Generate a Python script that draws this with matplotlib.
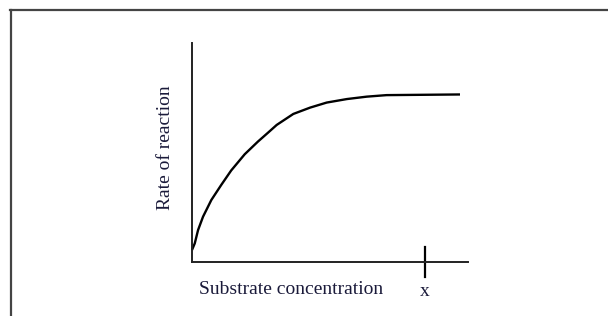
import matplotlib
matplotlib.use("Agg")
import matplotlib.pyplot as plt
from matplotlib.lines import Line2D

substrate = [0.0, 0.10, 0.22, 0.40, 0.70, 1.06, 1.42, 1.91, 2.39, 2.75, 3.07, 3.67,
             4.28, 4.88, 5.61, 6.33, 7.05, 9.71]
rate = [0.55, 0.85, 1.46, 2.07, 2.83, 3.52, 4.18, 4.92, 5.50, 5.90, 6.26, 6.76,
        7.05, 7.28, 7.44, 7.55, 7.62, 7.65]
x_mark = 8.44
x_label = "Substrate concentration"
y_label = "Rate of reaction"
mark_label = "x"

W, H = 608, 316
fig = plt.figure(figsize=(W / 100, H / 100), dpi=100)
fig.patch.set_facecolor("white")

# outer frame (top and left)
fig.add_artist(Line2D([10 / W, 1.0], [1 - 10 / H, 1 - 10 / H], transform=fig.transFigure,
                      color="#444444", lw=1.6))
fig.add_artist(Line2D([11 / W, 11 / W], [0, 1 - 10 / H], transform=fig.transFigure,
                      color="#444444", lw=1.6))

ax = fig.add_axes([192 / W, 1 - 262 / H, 276 / W, 219 / H])
ax.set_xlim(0, 10)
ax.set_ylim(0, 10)
for s in ["top", "right"]:
    ax.spines[s].set_visible(False)
for s in ["left", "bottom"]:
    ax.spines[s].set_linewidth(1.4)
    ax.spines[s].set_color("#222222")
ax.set_xticks([])
ax.set_yticks([])

ax.plot(substrate, rate, color="black", lw=1.7, clip_on=False, solid_capstyle="butt",
        solid_joinstyle="round")

# mark on x axis
ax.plot([x_mark, x_mark], [0.7, -0.7], color="black", lw=1.6, clip_on=False)

font = dict(family="Liberation Serif", size=14, color="#1a1a3a")
ax.text((291 - 192) / 276 * 10, (262 - 289) / 219 * 10, x_label, ha="center", va="center",
        transform=ax.transData, **font)
ax.text(x_mark, (262 - 292) / 219 * 10, mark_label, ha="center", va="center", **font)
ax.text((165 - 192) / 276 * 10, (262 - 148) / 219 * 10, y_label, ha="center", va="center",
        rotation=90, **font)

fig.savefig("out.png", dpi=100, facecolor="white")
